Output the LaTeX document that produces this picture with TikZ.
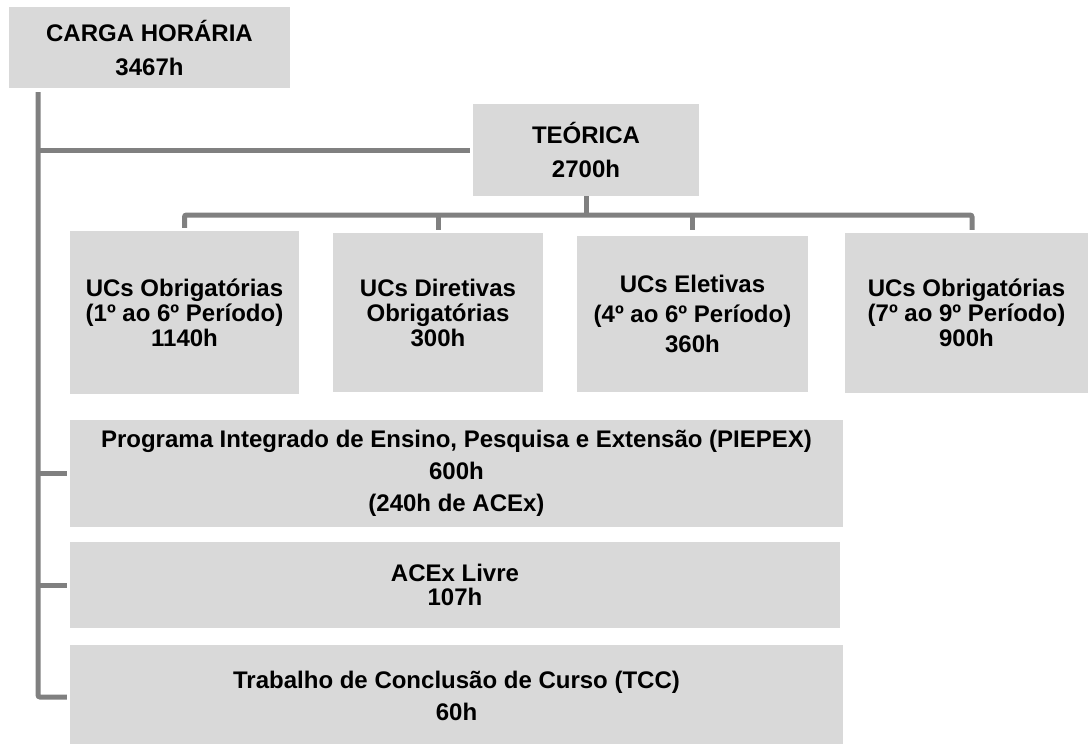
\documentclass[tikz,border=0pt]{standalone}
\usepackage{fontspec}
\setmainfont{Liberation Sans}
\definecolor{boxgray}{HTML}{D9D9D9}
\definecolor{linegray}{HTML}{808080}
\tikzset{
  box/.style={rectangle, fill=boxgray, draw=none, inner sep=0pt, align=center,
    font=\bfseries\fontsize{24}{25}\selectfont},
  conn/.style={draw=linegray, line width=5pt, rounded corners=2pt}
}
\begin{document}
\begin{tikzpicture}[x=1pt,y=-1pt]
\useasboundingbox (0,0) rectangle (1088,744);
% boxes
\node[box, minimum width=281pt, minimum height=81pt, font=\bfseries\fontsize{24}{34}\selectfont] (carga) at (149.5,47.5) {CARGA HORÁRIA\\3467h};
\node[box, minimum width=226pt, minimum height=92pt, font=\bfseries\fontsize{24}{34}\selectfont] (teor) at (586,150) {TEÓRICA\\2700h};
\node[box, minimum width=229pt, minimum height=163pt] (uc1) at (184.5,312.5) {UCs Obrigatórias\\(1º ao 6º Período)\\1140h};
\node[box, minimum width=210pt, minimum height=159pt] (uc2) at (438,312.5) {UCs Diretivas\\Obrigatórias\\300h};
\node[box, minimum width=231pt, minimum height=156pt, font=\bfseries\fontsize{24}{30}\selectfont] (uc3) at (692.5,314) {UCs Eletivas\\(4º ao 6º Período)\\360h};
\node[box, minimum width=243pt, minimum height=160pt] (uc4) at (966.5,313) {UCs Obrigatórias\\(7º ao 9º Período)\\900h};
\node[box, minimum width=773pt, minimum height=107pt, font=\bfseries\fontsize{24}{32}\selectfont] (piepex) at (456.5,473.5) {Programa Integrado de Ensino, Pesquisa e Extensão (PIEPEX)\\600h\\(240h de ACEx)};
\node[box, minimum width=770pt, minimum height=86pt, font=\bfseries\fontsize{24}{24}\selectfont] (acex) at (455,585) {ACEx Livre\\107h};
\node[box, minimum width=773pt, minimum height=99pt] (tcc) at (456.5,694.5) {};
\node[font=\bfseries\fontsize{24}{32}\selectfont, align=center, inner sep=0pt] (tcctext) at (456.5,696) {Trabalho de Conclusão de Curso (TCC)\\60h};
% connectors
\coordinate (t0) at (38,92);
\coordinate (b1) at (38,150);
\coordinate (b2) at (38,473.5);
\coordinate (b3) at (38,585);
\coordinate (fork) at (586,215);
\coordinate (x4) at (972,0);
\draw[conn] (t0) |- ([xshift=-3pt,yshift=-2.5pt]tcc.west);
\draw[conn] (b1) -- ([xshift=-3pt]teor.west);
\draw[conn] (b2) -- ([xshift=-3pt]piepex.west);
\draw[conn] (b3) -- ([xshift=-3pt]acex.west);
\draw[conn] (teor.south) -- (fork);
\draw[conn] ([yshift=3pt]uc1.north) |- (fork) -| ([yshift=3pt]uc4.north -| x4);
\draw[conn] (uc2.north |- fork) -- ([yshift=3pt]uc2.north);
\draw[conn] (uc3.north |- fork) -- ([yshift=6pt]uc3.north);
\end{tikzpicture}
\end{document}
